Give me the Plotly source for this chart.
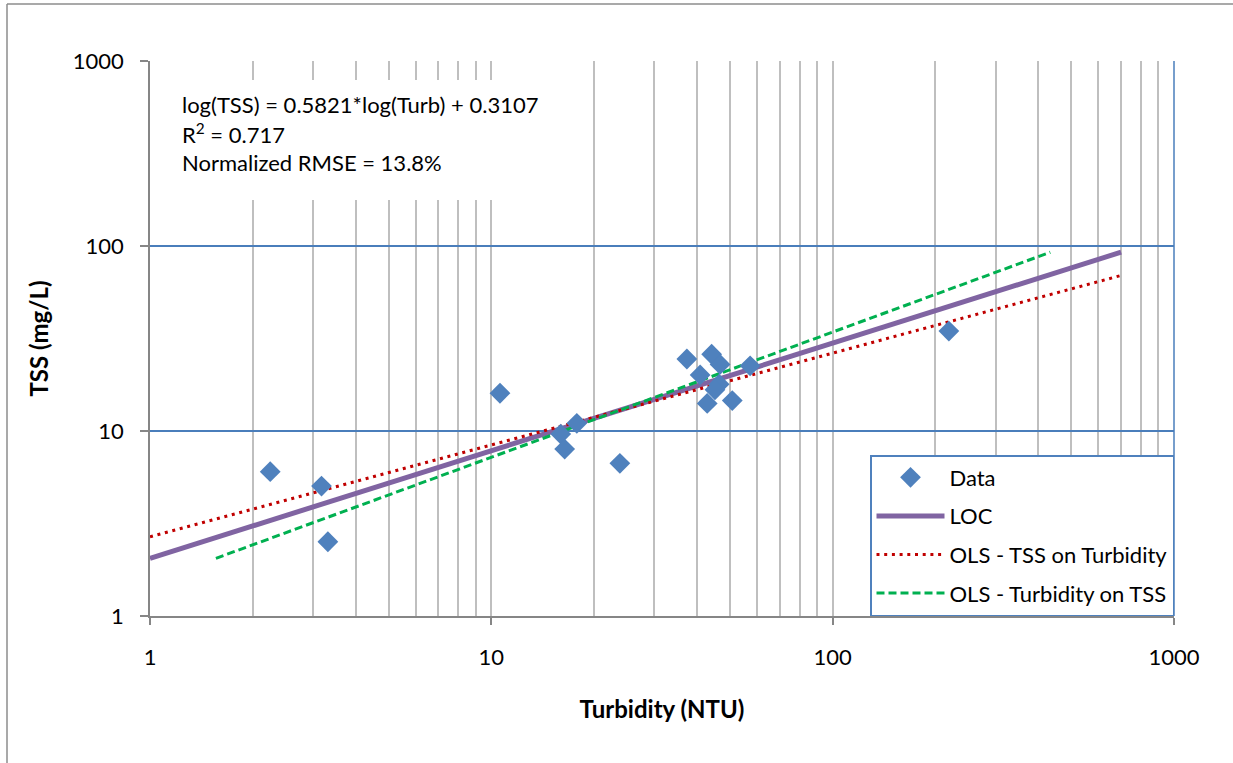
import plotly.graph_objects as go

# ---- data ----
turbidity = [2.25, 3.18, 3.32, 10.6, 15.97, 16.4, 17.8, 23.8, 37.4, 44.2, 46.8,
             40.9, 46.5, 45.2, 42.9, 50.8, 57.3, 219]
tss = [6.03, 5.04, 2.52, 16.0, 9.63, 7.99, 11.0, 6.69, 24.5, 26.0, 22.9,
       20.1, 17.9, 16.7, 14.1, 14.6, 22.5, 34.7]

loc_turb = [1, 700]
loc_tss = [2.05, 92.6]
ols_tss_on_turb_x = [1, 700]
ols_tss_on_turb_y = [2.68, 69.3]
ols_turb_on_tss_x = [1.56, 434]
ols_turb_on_tss_y = [2.05, 92.5]

eq_lines = ["log(TSS) = 0.5821*log(Turb) + 0.3107",
            "R<sup>2</sup> = 0.717",
            "Normalized RMSE = 13.8%"]

x_ticks = [1, 10, 100, 1000]
y_ticks = [1, 10, 100, 1000]

FONT = "Lato, Carlito, Calibri, sans-serif"
BLUE = "#4F81BD"
AXIS_GRAY = "#868686"
GRID_GRAY = "#BFBFBF"
GRID_BLUE = "#4A7EBB"

fig = go.Figure()
fig.add_trace(go.Scatter(x=loc_turb, y=loc_tss, mode="lines", name="LOC",
                         line=dict(color="#8064A2", width=5), legendrank=2, legendgroup="b"))
fig.add_trace(go.Scatter(x=ols_tss_on_turb_x, y=ols_tss_on_turb_y, mode="lines",
                         name="OLS - TSS on Turbidity",
                         line=dict(color="#C00000", width=3, dash="3px,4.7px"),
                         legendrank=3, legendgroup="c"))
fig.add_trace(go.Scatter(x=ols_turb_on_tss_x, y=ols_turb_on_tss_y, mode="lines",
                         name="OLS - Turbidity on TSS",
                         line=dict(color="#00B050", width=3, dash="8px,4px"),
                         legendrank=4, legendgroup="d"))
fig.add_trace(go.Scatter(x=turbidity, y=tss, mode="markers", name="Data",
                         marker=dict(symbol="diamond", size=16, color=BLUE),
                         legendrank=1, legendgroup="a"))

L, R, T, B = 150, 59, 61, 147
W, H = 1233, 763
pw, ph = W - L - R, H - T - B


def px(xp):
    return (xp - L) / pw


def py(yp):
    return (H - B - yp) / ph


shapes = [
    # right edge of plot area
    dict(type="line", xref="paper", yref="paper", x0=1, x1=1, y0=0, y1=1,
         line=dict(color=GRID_BLUE, width=1.5), layer="above"),
    # outer chart frame (left + top)
    dict(type="line", xref="paper", yref="paper", x0=px(7), x1=px(7), y0=py(4), y1=py(800),
         line=dict(color="#8C8C8C", width=1.5)),
    dict(type="line", xref="paper", yref="paper", x0=px(7), x1=px(1300), y0=py(4), y1=py(4),
         line=dict(color="#8C8C8C", width=1.5)),
]

annotations = [
    # white text-box background that hides the grid behind the equation
    dict(text=" ", xref="paper", yref="paper", x=px(165), y=py(80),
         xanchor="left", yanchor="top", showarrow=False, width=395, height=120,
         bgcolor="white", borderpad=0, borderwidth=0),
]
for i, txt in enumerate(eq_lines):
    annotations.append(dict(text=txt, xref="paper", yref="paper", x=px(180), y=py(104 + 29 * i),
                            xanchor="left", yanchor="middle", showarrow=False,
                            font=dict(family=FONT, size=22, color="black")))

fig.update_layout(
    width=W, height=H,
    margin=dict(l=L, r=R, t=T, b=B, autoexpand=False),
    paper_bgcolor="white", plot_bgcolor="white",
    font=dict(family=FONT, size=21, color="black"),
    showlegend=True,
    legend=dict(x=1, y=0, xanchor="right", yanchor="bottom",
                bordercolor=BLUE, borderwidth=1.5, bgcolor="white",
                font=dict(family=FONT, size=22, color="black"),
                itemwidth=68, tracegroupgap=7, traceorder="grouped"),
    shapes=shapes,
    annotations=annotations,
    xaxis=dict(type="log", range=[0, 3], tickvals=x_ticks, ticktext=[str(v) for v in x_ticks],
               showline=True, linecolor=AXIS_GRAY, linewidth=1.5,
               ticks="outside", ticklen=7, tickcolor=AXIS_GRAY, tickwidth=1.5,
               showgrid=True, gridcolor=GRID_GRAY, gridwidth=1.5,
               minor=dict(dtick="D1", showgrid=True, gridcolor=GRID_GRAY, gridwidth=1.5, ticks=""),
               tickfont=dict(family=FONT, size=22, color="black"),
               ticklabelstandoff=14, zeroline=False,
               title=dict(text="<b>Turbidity (NTU)</b>", font=dict(family=FONT, size=24),
                          standoff=32)),
    yaxis=dict(type="log", range=[0, 3], tickvals=y_ticks, ticktext=[str(v) for v in y_ticks],
               showline=True, linecolor=AXIS_GRAY, linewidth=1.5,
               ticks="outside", ticklen=8, tickcolor=AXIS_GRAY, tickwidth=1.5,
               showgrid=True, gridcolor=GRID_BLUE, gridwidth=1.5,
               tickfont=dict(family=FONT, size=22, color="black"),
               ticklabelstandoff=12, zeroline=False,
               title=dict(text="<b>TSS (mg/L)</b>", font=dict(family=FONT, size=24),
                          standoff=17)),
)

fig.write_html("out.html")
